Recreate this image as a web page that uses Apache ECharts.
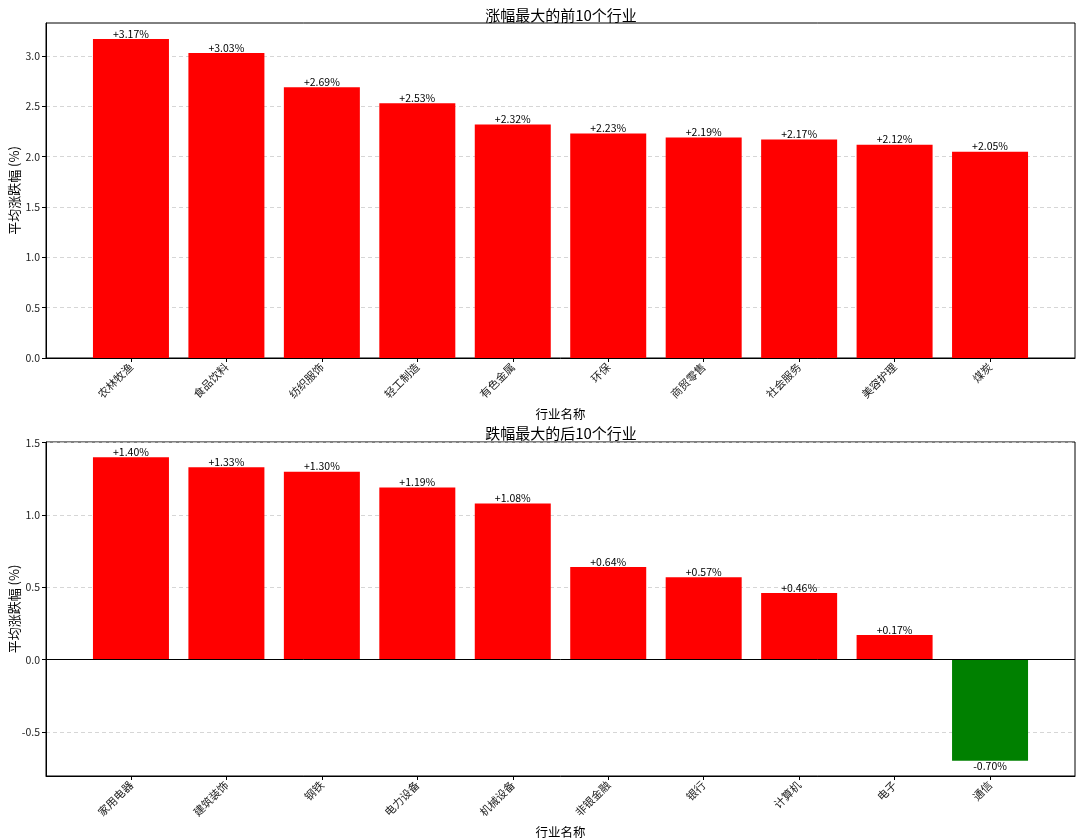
<!DOCTYPE html>
<html>
<head>
<meta charset="utf-8">
<script src="https://cdn.jsdelivr.net/npm/echarts@6/dist/echarts.min.js"></script>
<style>
	html, body { margin: 0; padding: 0; background: #fff; }
	#chart { width: 1080px; height: 839px; }
</style>
</head>
<body>
<div id="chart"></div>
<script>
// 涨幅前10
let topNames = ["农林牧渔", "食品饮料", "纺织服饰", "轻工制造", "有色金属", "环保", "商贸零售", "社会服务", "美容护理", "煤炭"]
let topValues = [3.17, 3.03, 2.69, 2.53, 2.32, 2.23, 2.19, 2.17, 2.12, 2.05]

// 跌幅后10
let bottomNames = ["家用电器", "建筑装饰", "钢铁", "电力设备", "机械设备", "非银金融", "银行", "计算机", "电子", "通信"]
let bottomValues = [1.40, 1.33, 1.30, 1.19, 1.08, 0.64, 0.57, 0.46, 0.17, -0.70]

let topTicks = [0, 0.5, 1.0, 1.5, 2.0, 2.5, 3.0]
let bottomTicks = [-0.5, 0, 0.5, 1.0, 1.5]

let font = "'Noto Sans CJK SC', sans-serif"

// matplotlib 风格的 5% 边距
function valueRange(values) {
	let lo = Math.min(0, Math.min.apply(null, values))
	let hi = Math.max(0, Math.max.apply(null, values))
	let pad = (hi - lo) * 0.05
	return {
		min: lo < 0 ? lo - pad : 0,
		max: hi + pad
	}
}

function formatPercent(v) {
	return (v >= 0 ? "+" : "") + v.toFixed(2) + "%"
}

function indexes(names) {
	return names.map(function (n, i) {
		return i
	})
}

function xAxisFor(gridIndex, names) {
	return {
		type: "value",
		gridIndex: gridIndex,
		min: -0.89,
		max: names.length - 1 + 0.89,
		name: "行业名称",
		nameLocation: "middle",
		nameGap: 50,
		nameMoveOverlap: false,
		nameTextStyle: {fontFamily: font, fontSize: 12.5, color: "#000"},
		axisLine: {onZero: false, lineStyle: {color: "#000", width: 1}},
		axisTick: {show: true, length: 4, customValues: indexes(names), lineStyle: {color: "#000"}},
		axisLabel: {
			customValues: indexes(names),
			rotate: 45,
			margin: 7,
			fontFamily: font,
			fontSize: 11,
			color: "#222",
			formatter: function (v) {
				return names[Math.round(v)] || ""
			}
		},
		splitLine: {show: false}
	}
}

function yAxisFor(gridIndex, values, ticks) {
	let range = valueRange(values)
	return {
		type: "value",
		gridIndex: gridIndex,
		min: range.min,
		max: range.max,
		name: "平均涨跌幅 (%)",
		nameLocation: "middle",
		nameRotate: 90,
		nameGap: 25,
		nameMoveOverlap: false,
		nameTextStyle: {fontFamily: font, fontSize: 13, color: "#000"},
		axisLine: {show: true, onZero: false, lineStyle: {color: "#000", width: 1}},
		axisTick: {show: true, length: 4, customValues: ticks, lineStyle: {color: "#000"}},
		axisLabel: {
			customValues: ticks,
			fontFamily: font,
			fontSize: 10.5,
			color: "#222",
			margin: 6,
			formatter: function (v) {
				return v.toFixed(1)
			}
		},
		splitLine: {show: true, lineStyle: {color: "#cccccc", type: [4, 3], width: 0.8}}
	}
}

function barSeries(index, values, withZeroLine) {
	let s = {
		type: "bar",
		xAxisIndex: index,
		yAxisIndex: index,
		barWidth: 76,
		data: values.map(function (v, i) {
			return {
				value: [i, v],
				itemStyle: {color: v >= 0 ? "#ff0000" : "#008000"},
				label: {position: v >= 0 ? "top" : "bottom"}
			}
		}),
		label: {
			show: true,
			distance: 0,
			fontFamily: font,
			fontSize: 10.5,
			color: "#000",
			formatter: function (p) {
				return formatPercent(p.value[1])
			}
		}
	}
	if (withZeroLine) {
		s.markLine = {
			silent: true,
			symbol: "none",
			label: {show: false},
			lineStyle: {color: "#000", width: 1, type: "solid"},
			data: [{yAxis: 0}]
		}
	}
	return s
}

let chart = echarts.init(document.getElementById("chart"))
chart.setOption({
	backgroundColor: "#fff",
	animation: false,
	title: [
		{
			text: "涨幅最大的前10个行业",
			left: 556,
			top: 3,
			textAlign: "center",
			textStyle: {fontFamily: font, fontSize: 15, fontWeight: "normal", color: "#000"}
		},
		{
			text: "跌幅最大的后10个行业",
			left: 556,
			top: 421,
			textAlign: "center",
			textStyle: {fontFamily: font, fontSize: 15, fontWeight: "normal", color: "#000"}
		}
	],
	grid: [
		{left: 46, right: 5, top: 23, height: 335, show: true, borderColor: "#000", borderWidth: 1, outerBoundsMode: "none"},
		{left: 46, right: 5, top: 442, height: 334, show: true, borderColor: "#000", borderWidth: 1, outerBoundsMode: "none"}
	],
	xAxis: [
		xAxisFor(0, topNames),
		xAxisFor(1, bottomNames)
	],
	yAxis: [
		yAxisFor(0, topValues, topTicks),
		yAxisFor(1, bottomValues, bottomTicks)
	],
	series: [
		barSeries(0, topValues, false),
		barSeries(1, bottomValues, true)
	]
})
</script>
</body>
</html>
